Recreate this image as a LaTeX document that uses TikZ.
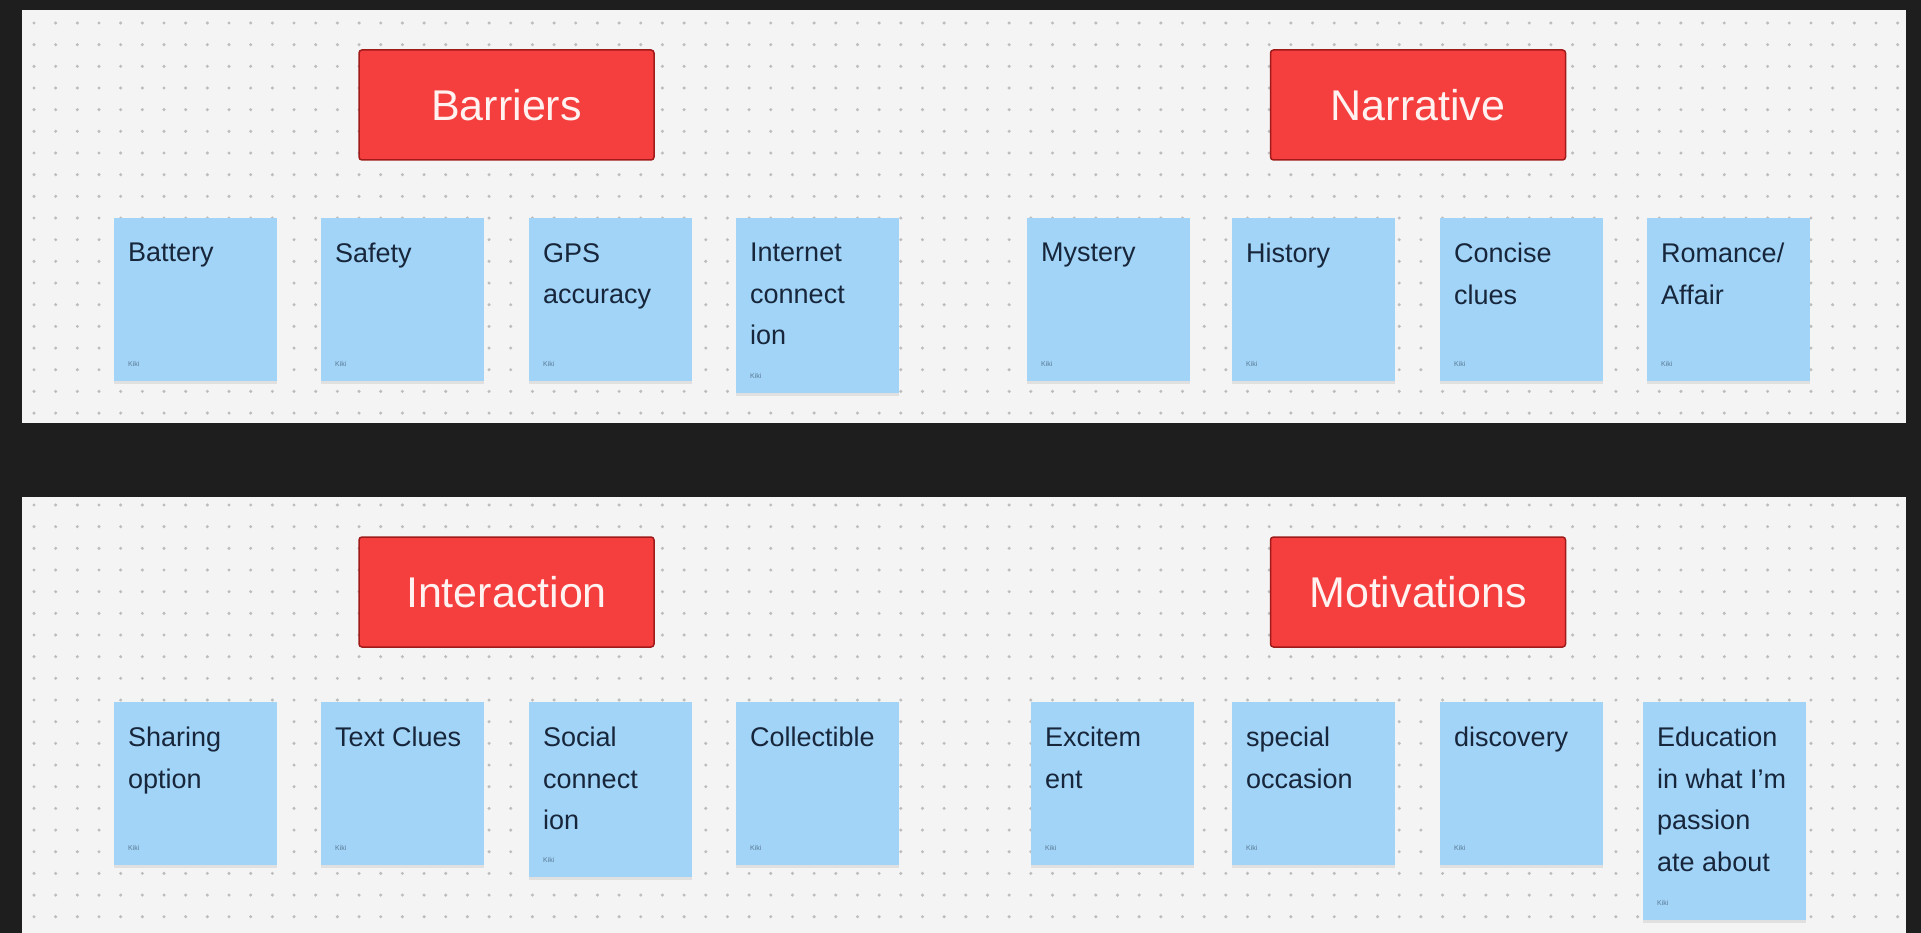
\documentclass[tikz,border=0pt]{standalone}
\usepackage{fontspec}
\setmainfont{Liberation Sans}
\usetikzlibrary{shadows}
\definecolor{bgdark}{HTML}{1E1E1E}
\definecolor{panelc}{HTML}{F4F4F4}
\definecolor{dotc}{HTML}{BDBDBD}
\definecolor{redfill}{HTML}{F53E3E}
\definecolor{redline}{HTML}{A01A1A}
\definecolor{headtext}{HTML}{FFF2F0}
\definecolor{stickyc}{HTML}{A2D4F8}
\definecolor{stickytxt}{HTML}{17263A}
\definecolor{kikic}{HTML}{5A7A94}
\tikzset{
  header/.style={rectangle, fill=redfill, draw=redline, line width=1.5pt, rounded corners=3pt,
    minimum width=295pt, minimum height=110pt, inner sep=0pt, text=headtext,
    font=\fontsize{43}{50}\selectfont},
  stickybox/.style={rectangle, fill=stickyc, minimum width=163pt, inner sep=0pt,
    drop shadow={shadow xshift=0pt, shadow yshift=-3pt, opacity=0.08, fill=black}},
  stickytext/.style={inner sep=0pt, align=left, text=stickytxt, font=\fontsize{27}{41.5}\selectfont},
  kiki/.style={inner sep=0pt, text=kikic, font=\fontsize{7}{8}\selectfont},
}
\newcommand{\stickynote}[5]{%
  \node[stickybox, minimum height=#4pt, anchor=north west] (#1) at (#2,#3) {};
  \node[stickytext, anchor=north west] (#1t) at ([xshift=14pt,yshift=-25pt]#1.north west) {#5};
  \node[kiki, anchor=south west] (#1k) at ([xshift=14pt,yshift=15pt]#1.south west) {Kiki};
}
\begin{document}
\begin{tikzpicture}[x=1pt,y=-1pt]
\useasboundingbox (0,0) rectangle (1921,933);
\fill[bgdark] (0,0) rectangle (1921,933);
\fill[panelc] (22,10) rectangle (1906,423);
\fill[panelc] (22,497) rectangle (1906,933);
\foreach \i in {0,...,86} {
  \foreach \j in {0,...,18} {
    \fill[dotc] ({34+21.67*\i},{23+21.67*\j}) circle (1.7pt);
  }
  \foreach \j in {0,...,19} {
    \fill[dotc] ({34+21.67*\i},{505+21.67*\j}) circle (1.7pt);
  }
}
% headers
\node[header] (barriers) at (506.5,105) {Barriers};
\node[header] (narrative) at (1418,105) {Narrative};
\node[header] (interaction) at (506.5,592) {Interaction};
\node[header] (motivations) at (1418,592) {Motivations};
% top row
\stickynote{battery}{114}{218}{163}{Battery}
\stickynote{safety}{321}{218}{163}{Safety}
\stickynote{gps}{529}{218}{163}{GPS\\accuracy}
\stickynote{internet}{736}{218}{175}{Internet\\connect\\ion}
\stickynote{mystery}{1027}{218}{163}{Mystery}
\stickynote{history}{1232}{218}{163}{History}
\stickynote{concise}{1440}{218}{163}{Concise\\clues}
\stickynote{romance}{1647}{218}{163}{Romance/\\Affair}
% bottom row
\stickynote{sharing}{114}{702}{163}{Sharing\\option}
\stickynote{textclues}{321}{702}{163}{Text Clues}
\stickynote{social}{529}{702}{175}{Social\\connect\\ion}
\stickynote{collectible}{736}{702}{163}{Collectible}
\stickynote{excitement}{1031}{702}{163}{Excitem\\ent}
\stickynote{special}{1232}{702}{163}{special\\occasion}
\stickynote{discovery}{1440}{702}{163}{discovery}
\stickynote{education}{1643}{702}{218}{Education\\in what I’m\\passion\\ate about}
\end{tikzpicture}
\end{document}
